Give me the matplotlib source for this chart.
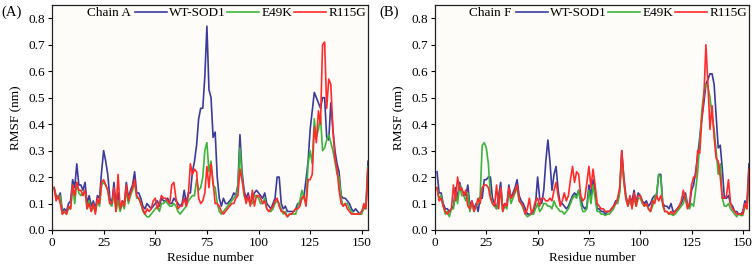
import numpy as np
import matplotlib
matplotlib.use("Agg")
import matplotlib.pyplot as plt

plt.rcParams['font.family'] = ['Liberation Serif', 'DejaVu Serif']

residues = np.arange(1, 154)

wt_a = [0.16,0.13,0.12,0.14,0.07,0.08,0.07,0.10,0.11,0.19,
        0.16,0.25,0.17,0.17,0.15,0.18,0.10,0.13,0.09,0.11,
        0.08,0.13,0.12,0.22,0.30,0.26,0.21,0.12,0.10,0.18,
        0.09,0.14,0.08,0.11,0.10,0.18,0.12,0.15,0.17,0.22,
        0.14,0.14,0.12,0.09,0.08,0.10,0.09,0.08,0.09,0.10,
        0.11,0.09,0.12,0.11,0.11,0.12,0.10,0.10,0.12,0.11,
        0.10,0.09,0.10,0.15,0.10,0.14,0.14,0.22,0.26,0.32,
        0.42,0.46,0.46,0.58,0.77,0.53,0.50,0.35,0.37,0.20,
        0.12,0.09,0.12,0.10,0.10,0.11,0.12,0.14,0.13,0.17,
        0.36,0.22,0.15,0.12,0.14,0.10,0.12,0.14,0.15,0.14,
        0.13,0.12,0.14,0.10,0.09,0.08,0.10,0.12,0.20,0.20,
        0.10,0.08,0.09,0.07,0.07,0.07,0.07,0.08,0.10,0.10,
        0.12,0.13,0.19,0.26,0.38,0.45,0.52,0.50,0.48,0.46,
        0.50,0.50,0.35,0.34,0.48,0.38,0.30,0.25,0.22,0.13,
        0.12,0.12,0.11,0.10,0.08,0.07,0.08,0.07,0.06,0.07,
        0.08,0.09,0.26]

e49k_a = [0.16,0.12,0.12,0.13,0.06,0.07,0.06,0.08,0.08,0.17,
          0.10,0.18,0.14,0.13,0.14,0.15,0.08,0.11,0.07,0.09,
          0.07,0.11,0.09,0.17,0.18,0.17,0.15,0.10,0.09,0.14,
          0.07,0.11,0.07,0.10,0.08,0.15,0.10,0.13,0.15,0.18,
          0.12,0.12,0.10,0.07,0.06,0.05,0.05,0.06,0.07,0.08,
          0.09,0.07,0.10,0.10,0.11,0.10,0.09,0.09,0.10,0.09,
          0.07,0.06,0.07,0.08,0.09,0.11,0.12,0.13,0.13,0.19,
          0.15,0.16,0.20,0.30,0.33,0.22,0.26,0.17,0.16,0.10,
          0.07,0.06,0.07,0.08,0.09,0.10,0.11,0.12,0.13,0.16,
          0.31,0.20,0.13,0.11,0.12,0.10,0.10,0.13,0.13,0.12,
          0.10,0.10,0.12,0.08,0.07,0.07,0.08,0.10,0.11,0.10,
          0.08,0.06,0.07,0.05,0.06,0.06,0.06,0.06,0.09,0.11,
          0.15,0.12,0.10,0.25,0.30,0.25,0.42,0.35,0.38,0.43,
          0.30,0.31,0.34,0.36,0.33,0.30,0.26,0.21,0.20,0.12,
          0.09,0.10,0.10,0.08,0.07,0.06,0.06,0.06,0.06,0.06,
          0.09,0.08,0.24]

r115g_a = [0.16,0.11,0.13,0.10,0.06,0.07,0.06,0.09,0.08,0.17,
           0.13,0.18,0.15,0.15,0.13,0.15,0.08,0.10,0.07,0.10,
           0.06,0.12,0.10,0.18,0.19,0.17,0.15,0.10,0.10,0.16,
           0.07,0.21,0.08,0.11,0.09,0.17,0.11,0.14,0.16,0.19,
           0.13,0.12,0.10,0.08,0.06,0.08,0.07,0.08,0.11,0.12,
           0.08,0.10,0.13,0.12,0.12,0.11,0.10,0.17,0.18,0.12,
           0.08,0.09,0.09,0.12,0.09,0.13,0.25,0.21,0.23,0.22,
           0.12,0.10,0.11,0.14,0.24,0.16,0.25,0.18,0.10,0.10,
           0.09,0.07,0.06,0.07,0.08,0.09,0.10,0.10,0.12,0.13,
           0.23,0.19,0.14,0.10,0.13,0.09,0.15,0.09,0.13,0.13,
           0.12,0.10,0.11,0.08,0.07,0.08,0.09,0.11,0.12,0.09,
           0.07,0.07,0.06,0.05,0.06,0.06,0.07,0.08,0.08,0.09,
           0.12,0.13,0.09,0.19,0.19,0.21,0.39,0.33,0.45,0.40,
           0.70,0.71,0.46,0.57,0.55,0.38,0.27,0.23,0.15,0.10,
           0.09,0.10,0.08,0.07,0.06,0.06,0.06,0.06,0.06,0.07,
           0.10,0.08,0.23]

wt_f = [0.22,0.14,0.14,0.10,0.08,0.08,0.07,0.08,0.09,0.16,
        0.12,0.18,0.15,0.14,0.13,0.17,0.09,0.11,0.08,0.10,
        0.07,0.12,0.12,0.19,0.19,0.20,0.20,0.12,0.10,0.08,
        0.13,0.18,0.08,0.10,0.09,0.17,0.12,0.14,0.16,0.19,
        0.13,0.11,0.10,0.08,0.06,0.06,0.06,0.07,0.10,0.20,
        0.12,0.10,0.15,0.26,0.34,0.26,0.15,0.21,0.24,0.15,
        0.10,0.10,0.09,0.08,0.09,0.11,0.13,0.14,0.13,0.15,
        0.12,0.09,0.08,0.09,0.17,0.13,0.19,0.15,0.08,0.08,
        0.07,0.07,0.06,0.07,0.07,0.08,0.09,0.11,0.11,0.15,
        0.30,0.20,0.13,0.10,0.12,0.11,0.15,0.10,0.14,0.13,
        0.11,0.10,0.11,0.09,0.10,0.12,0.13,0.13,0.21,0.21,
        0.10,0.09,0.09,0.08,0.10,0.07,0.07,0.08,0.09,0.10,
        0.12,0.14,0.10,0.09,0.15,0.17,0.22,0.28,0.35,0.42,
        0.48,0.55,0.57,0.59,0.59,0.55,0.43,0.31,0.32,0.23,
        0.12,0.12,0.13,0.10,0.09,0.07,0.07,0.06,0.06,0.07,
        0.11,0.10,0.25]

e49k_f = [0.16,0.12,0.13,0.09,0.06,0.07,0.05,0.08,0.08,0.14,
          0.10,0.17,0.13,0.13,0.11,0.14,0.07,0.10,0.07,0.09,
          0.10,0.13,0.32,0.33,0.31,0.25,0.13,0.10,0.09,0.08,
          0.11,0.16,0.07,0.09,0.08,0.15,0.10,0.12,0.14,0.16,
          0.11,0.10,0.08,0.06,0.05,0.055,0.06,0.06,0.08,0.10,
          0.07,0.08,0.10,0.10,0.09,0.09,0.08,0.11,0.09,0.08,
          0.07,0.07,0.06,0.07,0.08,0.10,0.12,0.13,0.12,0.15,
          0.10,0.07,0.07,0.08,0.15,0.10,0.17,0.12,0.07,0.07,
          0.06,0.06,0.055,0.06,0.06,0.07,0.08,0.10,0.10,0.14,
          0.28,0.18,0.12,0.09,0.11,0.09,0.12,0.09,0.12,0.12,
          0.10,0.09,0.10,0.08,0.07,0.09,0.12,0.14,0.21,0.20,
          0.09,0.07,0.07,0.06,0.06,0.055,0.06,0.07,0.08,0.09,
          0.10,0.13,0.09,0.08,0.10,0.09,0.15,0.22,0.33,0.45,
          0.52,0.55,0.54,0.50,0.43,0.38,0.30,0.21,0.25,0.12,
          0.09,0.09,0.10,0.08,0.07,0.06,0.05,0.06,0.055,0.055,
          0.09,0.08,0.22]

r115g_f = [0.16,0.11,0.12,0.09,0.07,0.06,0.07,0.08,0.17,0.11,
           0.20,0.15,0.16,0.13,0.15,0.09,0.08,0.11,0.07,0.09,
           0.12,0.10,0.16,0.17,0.17,0.16,0.12,0.10,0.09,0.17,
           0.08,0.16,0.07,0.10,0.09,0.16,0.12,0.13,0.15,0.17,
           0.11,0.10,0.09,0.06,0.08,0.12,0.06,0.08,0.11,0.12,
           0.09,0.12,0.12,0.11,0.11,0.12,0.11,0.15,0.18,0.13,
           0.09,0.11,0.14,0.11,0.13,0.19,0.24,0.18,0.22,0.21,
           0.13,0.11,0.12,0.18,0.24,0.16,0.23,0.17,0.10,0.09,
           0.08,0.08,0.07,0.07,0.07,0.08,0.09,0.10,0.12,0.16,
           0.30,0.19,0.12,0.09,0.13,0.08,0.14,0.09,0.13,0.13,
           0.11,0.09,0.10,0.08,0.07,0.11,0.10,0.13,0.11,0.13,
           0.10,0.07,0.07,0.06,0.07,0.06,0.07,0.08,0.09,0.11,
           0.15,0.12,0.08,0.10,0.17,0.20,0.20,0.30,0.29,0.42,
           0.50,0.70,0.55,0.38,0.47,0.35,0.27,0.26,0.20,0.12,
           0.12,0.13,0.19,0.10,0.08,0.07,0.06,0.06,0.06,0.06,
           0.10,0.08,0.23]

series_names = ['WT-SOD1', 'E49K', 'R115G']
colors = ['#3b3b9c', '#3cb43c', '#ff2a2a']
panels = [('(A)', 'Chain A', [wt_a, e49k_a, r115g_a]),
          ('(B)', 'Chain F', [wt_f, e49k_f, r115g_f])]
xticks = [0, 25, 50, 75, 100, 125, 150]
yticks = [0.0, 0.1, 0.2, 0.3, 0.4, 0.5, 0.6, 0.7, 0.8]

fig = plt.figure(figsize=(7.54, 2.67), dpi=100)
fig.patch.set_facecolor('white')
axes_rects = [[52/754, 37/267, 316/754, 225/267],
              [435/754, 37/267, 314/754, 225/267]]
panel_label_x = [1/754, 379/754]

for rect, lx, (plabel, chain, data) in zip(axes_rects, panel_label_x, panels):
    ax = fig.add_axes(rect)
    ax.set_facecolor('#fdfcf8')
    handles = []
    for vals, name, c in zip(data, series_names, colors):
        h, = ax.plot(residues, vals, color=c, lw=1.2, label=name)
        handles.append(h)
    ax.set_xlim(0, 153)
    ax.set_ylim(0, 0.85)
    ax.set_xticks(xticks)
    ax.set_yticks(yticks)
    ax.set_yticklabels([f'{v:.1f}' for v in yticks])
    ax.tick_params(direction='out', length=3, width=0.8, labelsize=9.5, pad=2)
    for s in ax.spines.values():
        s.set_linewidth(0.9)
        s.set_color('#222222')
    ax.set_xlabel('Residue number', fontsize=9.5, labelpad=2)
    ax.set_ylabel('RMSF (nm)', fontsize=9.5, labelpad=4)
    leg = ax.legend(handles=handles, loc='upper right', bbox_to_anchor=(1.0, 1.0),
                    ncol=3, frameon=False, fontsize=9.5, handlelength=2.4,
                    handletextpad=0.2, columnspacing=0.1, borderpad=0.1,
                    borderaxespad=0.05)
    ax.annotate(chain, xy=(0, 0.5), xycoords=leg, xytext=(-2, 0),
                textcoords='offset points', ha='right', va='center', fontsize=9.5)
    fig.text(lx, 1 - 12/267, plabel, fontsize=10.5, ha='left', va='center')

fig.savefig('out.png', dpi=100)
